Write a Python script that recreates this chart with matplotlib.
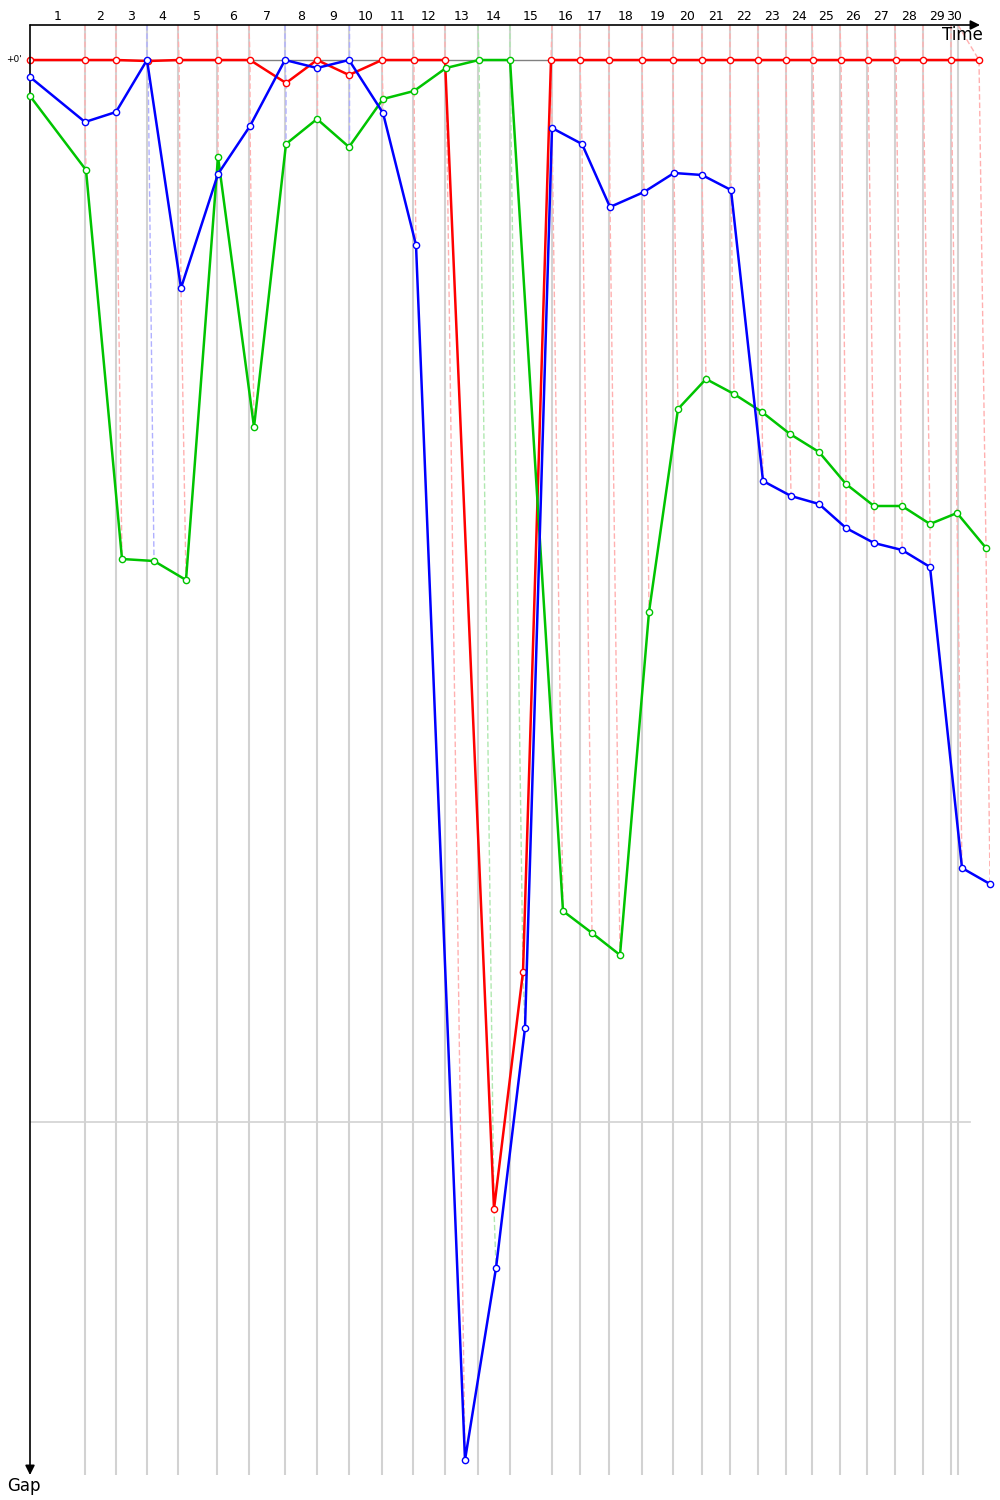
import numpy as np
import matplotlib
matplotlib.use("Agg")
import matplotlib.pyplot as plt

plt.rcParams["font.family"] = "DejaVu Sans"

### data (time along the race, gap behind the leader), lap 0 = start

lap_labels = [str(i) for i in range(1, 31)]

# time at which each lap line is crossed (lap 1..30)
lap_line_t = [55, 86, 117, 148, 187, 219, 255, 287, 319, 352, 383, 415, 448, 480,
              522, 550, 579, 612, 643, 672, 700, 728, 756, 782, 810, 837, 865, 893,
              921, 928]

red_t = [0, 55, 86, 118, 149, 188, 220, 256, 287, 319, 352, 384, 415, 464, 493, 521,
         550, 579, 612, 643, 672, 700, 728, 756, 783, 811, 838, 866, 893, 921, 949]
red_gap = [0, 0, 0, 1, 0, 0, 0, 23, 0, 15, 0, 0, 0, 1149, 912, 0,
           0, 0, 0, 0, 0, 0, 0, 0, 0, 0, 0, 0, 0, 0, 0]

blue_t = [0, 55, 86, 117, 151, 188, 220, 255, 287, 319, 353, 386, 435, 466, 495, 522,
          552, 580, 614, 644, 672, 701, 733, 761, 789, 816, 844, 872, 900, 932, 960]
blue_gap = [17, 62, 52, 0, 228, 114, 66, 0, 8, 0, 53, 185, 1400, 1208, 968, 68,
            84, 147, 132, 113, 115, 130, 421, 436, 444, 468, 483, 490, 507, 808, 824]

green_t = [0, 56, 92, 124, 156, 188, 224, 256, 287, 319, 353, 384, 416, 449, 480, 533,
           562, 590, 619, 648, 676, 704, 732, 760, 789, 816, 844, 872, 900, 927, 956]
green_gap = [36, 110, 499, 501, 520, 97, 367, 84, 59, 87, 39, 31, 8, 0, 0, 851,
             873, 895, 552, 349, 319, 334, 352, 374, 392, 424, 446, 446, 464, 453, 488]

grid_gap = 1062

colors = {"red": "#ff0000", "blue": "#0000ff", "green": "#00c400"}
light = {"red": "#ffb0b0", "blue": "#b0b0ff", "green": "#b0e8b0"}

cars = {
    "red": (red_t, red_gap),
    "blue": (blue_t, blue_gap),
    "green": (green_t, green_gap),
}

### plotting

fig = plt.figure(figsize=(10, 15), dpi=100)
ax = fig.add_axes([0.03, 1 - 1475 / 1500, 0.96, 1450 / 1500])
top, bottom = -35, 1415
ax.set_xlim(0, 960)
ax.set_ylim(bottom, top)
for s in ax.spines.values():
    s.set_visible(False)
ax.set_xticks([])
ax.set_yticks([])

# lap lines
for t in lap_line_t:
    ax.plot([t, t], [top, bottom], color="#d2d2d2", linewidth=1.5, zorder=0)
ax.plot([0, 940], [grid_gap, grid_gap], color="#d2d2d2", linewidth=1.2, zorder=0)
ax.plot([0, 950], [0, 0], color="#808080", linewidth=1, zorder=1)

# dashed crossing lines, coloured by the leader of the lap
for lap in range(1, 31):
    pts = [(cars[c][1][lap], cars[c][0][lap], c) for c in cars]
    pts.sort()
    leader = pts[0][2]
    xs = [lap_line_t[lap - 1]] + [p[1] for p in pts]
    ys = [top] + [p[0] for p in pts]
    ax.plot(xs, ys, color=light[leader], linewidth=1, linestyle=(0, (4, 2)), zorder=1)

# car traces
zorders = {"red": 3, "green": 4, "blue": 5}
for c, (t, g) in cars.items():
    ax.plot(t, g, color=colors[c], linewidth=1.8, marker="o", markersize=4.5,
            markerfacecolor="white", markeredgecolor=colors[c], markeredgewidth=1,
            zorder=zorders[c], clip_on=False)

# axes arrows
ax.annotate("", xy=(950, top), xytext=(0, top), annotation_clip=False,
            arrowprops=dict(arrowstyle="-|>", color="black", lw=1.2, mutation_scale=14,
                            shrinkA=0, shrinkB=0))
ax.annotate("", xy=(0, bottom), xytext=(0, top), annotation_clip=False,
            arrowprops=dict(arrowstyle="-|>", color="black", lw=1.2, mutation_scale=14,
                            shrinkA=0, shrinkB=0))
ax.text(932, -25, "Time", ha="center", va="center", fontsize=12)
ax.text(-6, 1426, "Gap", ha="center", va="center", fontsize=12, clip_on=False)
ax.text(-8, 0, "+0'", ha="right", va="center", fontsize=6.5)

# lap numbers between lap lines
prev = 0
for lab, t in zip(lap_labels, lap_line_t):
    ax.text((prev + t) / 2, -43, lab, ha="center", va="center", fontsize=9)
    prev = t

fig.savefig("out.png", dpi=100)
